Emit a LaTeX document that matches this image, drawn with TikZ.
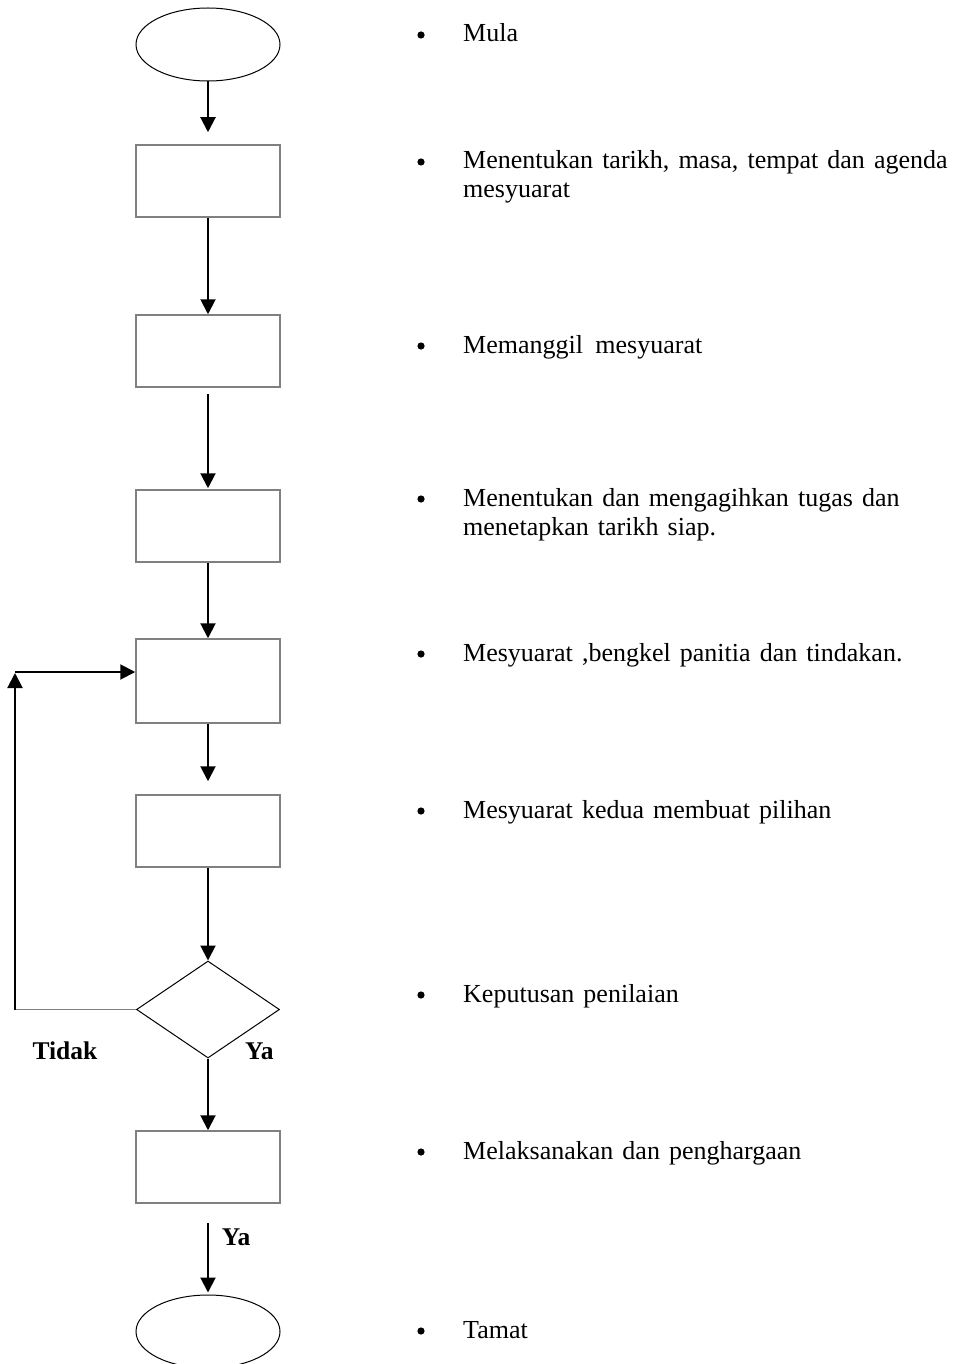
\documentclass[tikz,border=0pt]{standalone}
\usepackage{fontspec}
\setmainfont{Liberation Serif}[WordSpace=1.4]
\usetikzlibrary{shapes.geometric,arrows.meta}
\definecolor{boxgray}{RGB}{128,128,128}

\begin{document}
\begin{tikzpicture}[x=1pt,y=-1pt,
  stepbox/.style={draw=boxgray, line width=1.5pt, minimum width=144pt, minimum height=72pt, inner sep=0pt},
  terminal/.style={draw, ellipse, line width=1pt, minimum width=144pt, minimum height=73pt, inner sep=0pt},
  decision/.style={draw, diamond, line width=1pt, minimum width=143pt, minimum height=97pt, inner sep=0pt},
  flow/.style={line width=2pt, -{Triangle[length=15pt,width=15pt]}},
  note/.style={anchor=base west, inner sep=0pt, font=\fontsize{26}{30}\selectfont},
  dot/.style={circle, fill, inner sep=0pt, minimum size=7.2pt},
  answer/.style={anchor=base west, inner sep=0pt, font=\bfseries\fontsize{25.5}{29.5}\selectfont}
]
\useasboundingbox (0,0) rectangle (956,1364);
\clip (0,0) rectangle (956,1364);

% flow chart column
\node[terminal] (start) at (208,44.5) {};
\node[stepbox] (b1) at (208,181) {};
\node[stepbox] (b2) at (208,351) {};
\node[stepbox] (b3) at (208,526) {};
\node[stepbox, minimum height=84pt] (b4) at (208,681) {};
\node[stepbox] (b5) at (208,831) {};
\node[decision] (dec) at (208,1009.5) {};
\node[stepbox] (b6) at (208,1167) {};
\node[terminal] (finish) at (208,1331.5) {};

% downward connectors
\draw[flow, shorten >=12pt] (start.south) -- (b1.north);
\draw[flow] (b1.south) -- (b2.north);
\draw[flow, shorten <=6pt, shorten >=1pt] (b2.south) -- (b3.north);
\draw[flow] (b3.south) -- (b4.north);
\draw[flow, shorten >=13pt] (b4.south) -- (b5.north);
\draw[flow] (b5.south) -- (dec.north);
\draw[flow] (dec.south) -- (b6.north);
\draw[flow, shorten <=19pt, shorten >=2pt] (b6.south) -- (finish.north);

% "Tidak" loop back to the workshop step
\coordinate (looptop) at (15,672);
\coordinate (loopbot) at (dec.west -| looptop);
\draw[draw=boxgray, line width=1.5pt] (dec.west) -- ([xshift=-1pt]loopbot);
\draw[flow] ([yshift=-0.75pt]loopbot) -- ([yshift=-1pt]looptop);
\draw[flow] (looptop) -- (looptop -| b4.west);

% branch labels
\node[answer] (no) at (32.3,1059) {Tidak};
\node[answer] (yes1) at (245,1059) {Ya};
\node[answer] (yes2) at (221.7,1245) {Ya};

% step descriptions
\node[dot] (d1) at (421,35) {};
\node[note] (t1) at (463,42) {Mula};
\node[dot] (d2) at (421,162) {};
\node[note] (t2a) at (463,169) {Menentukan tarikh, masa, tempat dan agenda};
\node[note] (t2b) at (463,198) {mesyuarat};
\node[dot] (d3) at (421,346) {};
\node[note] (t3) at (463,353) {Memanggil\hspace{3.3pt} mesyuarat};
\node[dot] (d4) at (421,499) {};
\node[note] (t4a) at (463,506) {Menentukan dan mengagihkan tugas dan};
\node[note] (t4b) at (463,535) {menetapkan tarikh siap.};
\node[dot] (d5) at (421,654) {};
\node[note] (t5) at (463,661) {Mesyuarat ,bengkel panitia dan tindakan.};
\node[dot] (d6) at (421,811) {};
\node[note] (t6) at (463,818) {Mesyuarat kedua membuat pilihan};
\node[dot] (d7) at (421,995) {};
\node[note] (t7) at (463,1002) {Keputusan penilaian};
\node[dot] (d8) at (421,1152) {};
\node[note] (t8) at (463,1159) {Melaksanakan dan penghargaan};
\node[dot] (d9) at (421,1331) {};
\node[note] (t9) at (463,1338) {Tamat};
\end{tikzpicture}
\end{document}
